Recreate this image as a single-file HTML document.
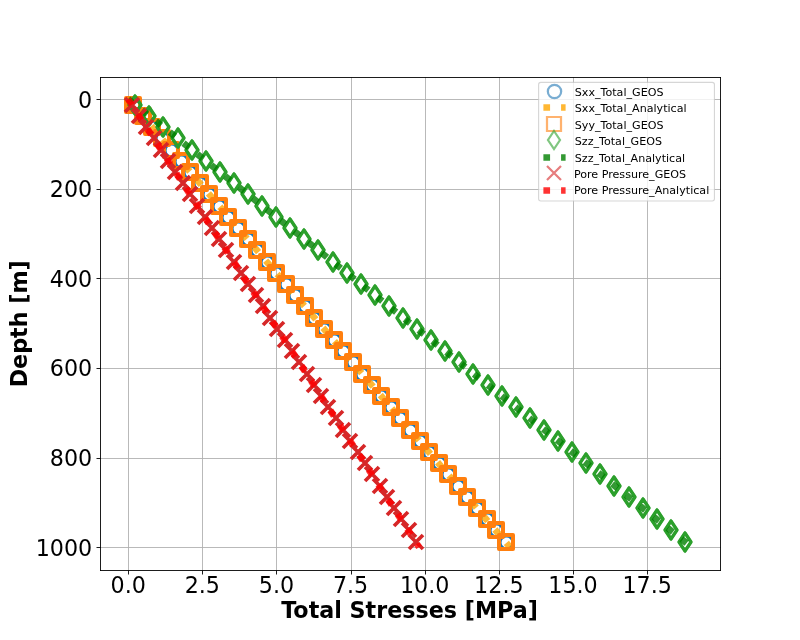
<!DOCTYPE html>
<html lang="en">
<head>
<meta charset="utf-8">
<title>Total Stresses vs Depth</title>
<style>
html,body{margin:0;padding:0;background:#fff}
body{width:800px;height:640px;overflow:hidden;font-family:"DejaVu Sans","Liberation Sans",sans-serif}
svg{display:block}
</style>
</head>
<body>
<svg width="800" height="640" viewBox="0 0 800 640">
<defs>
<clipPath id="ax"><rect x="100" y="77" width="621" height="494"/></clipPath>
<circle id="mo" r="6.667"/>
<path id="ms" d="M-7-7H7V7H-7Z"/>
<path id="md" d="M0-9L6 0L0 9L-6 0Z"/>
<g id="mD"><use href="#md" stroke-width="3.3" stroke-linejoin="round"/><use href="#md" stroke-width="2.4" stroke-linejoin="miter"/></g>
<path id="mx" d="M-7-7L7 7M-7 7L7-7"/>
</defs>
<rect width="800" height="640" fill="#fff"/>
<g clip-path="url(#ax)" stroke="#b0b0b0" stroke-width="0.889" stroke-linecap="square" fill="none">
<path d="M128.5 77.5 V570.5"/>
<path d="M202.5 77.5 V570.5"/>
<path d="M276.5 77.5 V570.5"/>
<path d="M351.5 77.5 V570.5"/>
<path d="M425.5 77.5 V570.5"/>
<path d="M499.5 77.5 V570.5"/>
<path d="M573.5 77.5 V570.5"/>
<path d="M647.5 77.5 V570.5"/>
<path d="M100.5 99.5 H720.5"/>
<path d="M100.5 189.5 H720.5"/>
<path d="M100.5 278.5 H720.5"/>
<path d="M100.5 368.5 H720.5"/>
<path d="M100.5 458.5 H720.5"/>
<path d="M100.5 547.5 H720.5"/>
</g>
<g clip-path="url(#ax)" fill="none" stroke-width="3.5" stroke="#1f77b4">
<use href="#mo" x="133.5" y="105.5"/>
<use href="#mo" x="143.5" y="116.5"/>
<use href="#mo" x="152.5" y="127.5"/>
<use href="#mo" x="162.5" y="138.5"/>
<use href="#mo" x="171.5" y="150.5"/>
<use href="#mo" x="181.5" y="161.5"/>
<use href="#mo" x="190.5" y="172.5"/>
<use href="#mo" x="200.5" y="183.5"/>
<use href="#mo" x="209.5" y="194.5"/>
<use href="#mo" x="219.5" y="206.5"/>
<use href="#mo" x="228.5" y="217.5"/>
<use href="#mo" x="238.5" y="228.5"/>
<use href="#mo" x="248.5" y="239.5"/>
<use href="#mo" x="257.5" y="250.5"/>
<use href="#mo" x="267.5" y="262.5"/>
<use href="#mo" x="276.5" y="273.5"/>
<use href="#mo" x="286.5" y="284.5"/>
<use href="#mo" x="295.5" y="295.5"/>
<use href="#mo" x="305.5" y="306.5"/>
<use href="#mo" x="314.5" y="318.5"/>
<use href="#mo" x="324.5" y="329.5"/>
<use href="#mo" x="334.5" y="340.5"/>
<use href="#mo" x="343.5" y="351.5"/>
<use href="#mo" x="353.5" y="362.5"/>
<use href="#mo" x="362.5" y="374.5"/>
<use href="#mo" x="372.5" y="385.5"/>
<use href="#mo" x="381.5" y="396.5"/>
<use href="#mo" x="391.5" y="407.5"/>
<use href="#mo" x="400.5" y="418.5"/>
<use href="#mo" x="410.5" y="430.5"/>
<use href="#mo" x="420.5" y="441.5"/>
<use href="#mo" x="429.5" y="452.5"/>
<use href="#mo" x="439.5" y="463.5"/>
<use href="#mo" x="448.5" y="474.5"/>
<use href="#mo" x="458.5" y="486.5"/>
<use href="#mo" x="467.5" y="497.5"/>
<use href="#mo" x="477.5" y="508.5"/>
<use href="#mo" x="487.5" y="519.5"/>
<use href="#mo" x="496.5" y="530.5"/>
<use href="#mo" x="506.5" y="542.5"/>
</g>
<path clip-path="url(#ax)" d="M128.182 99.2 L510 547.2" fill="none" stroke="#ffa500" stroke-opacity="0.8" stroke-width="6.667" stroke-dasharray="6.667 11"/>
<g clip-path="url(#ax)" fill="none" stroke-width="4" stroke="#ff7f0e" stroke-linejoin="round">
<use href="#ms" x="133" y="105"/>
<use href="#ms" x="143" y="116"/>
<use href="#ms" x="152" y="127"/>
<use href="#ms" x="162" y="138"/>
<use href="#ms" x="171" y="150"/>
<use href="#ms" x="181" y="161"/>
<use href="#ms" x="190" y="172"/>
<use href="#ms" x="200" y="183"/>
<use href="#ms" x="209" y="194"/>
<use href="#ms" x="219" y="206"/>
<use href="#ms" x="228" y="217"/>
<use href="#ms" x="238" y="228"/>
<use href="#ms" x="248" y="239"/>
<use href="#ms" x="257" y="250"/>
<use href="#ms" x="267" y="262"/>
<use href="#ms" x="276" y="273"/>
<use href="#ms" x="286" y="284"/>
<use href="#ms" x="295" y="295"/>
<use href="#ms" x="305" y="306"/>
<use href="#ms" x="314" y="318"/>
<use href="#ms" x="324" y="329"/>
<use href="#ms" x="334" y="340"/>
<use href="#ms" x="343" y="351"/>
<use href="#ms" x="353" y="362"/>
<use href="#ms" x="362" y="374"/>
<use href="#ms" x="372" y="385"/>
<use href="#ms" x="381" y="396"/>
<use href="#ms" x="391" y="407"/>
<use href="#ms" x="400" y="418"/>
<use href="#ms" x="410" y="430"/>
<use href="#ms" x="420" y="441"/>
<use href="#ms" x="429" y="452"/>
<use href="#ms" x="439" y="463"/>
<use href="#ms" x="448" y="474"/>
<use href="#ms" x="458" y="486"/>
<use href="#ms" x="467" y="497"/>
<use href="#ms" x="477" y="508"/>
<use href="#ms" x="487" y="519"/>
<use href="#ms" x="496" y="530"/>
<use href="#ms" x="506" y="542"/>
</g>
<g clip-path="url(#ax)" fill="none" stroke-width="3.5" stroke="#2ca02c" stroke-linejoin="round">
<use href="#mD" x="135" y="105"/>
<use href="#mD" x="149" y="116"/>
<use href="#mD" x="163" y="127"/>
<use href="#mD" x="178" y="138"/>
<use href="#mD" x="192" y="150"/>
<use href="#mD" x="206" y="161"/>
<use href="#mD" x="220" y="172"/>
<use href="#mD" x="234" y="183"/>
<use href="#mD" x="248" y="194"/>
<use href="#mD" x="262" y="206"/>
<use href="#mD" x="276" y="217"/>
<use href="#mD" x="290" y="228"/>
<use href="#mD" x="304" y="239"/>
<use href="#mD" x="318" y="250"/>
<use href="#mD" x="333" y="262"/>
<use href="#mD" x="347" y="273"/>
<use href="#mD" x="361" y="284"/>
<use href="#mD" x="375" y="295"/>
<use href="#mD" x="389" y="306"/>
<use href="#mD" x="403" y="318"/>
<use href="#mD" x="417" y="329"/>
<use href="#mD" x="431" y="340"/>
<use href="#mD" x="445" y="351"/>
<use href="#mD" x="459" y="362"/>
<use href="#mD" x="473" y="374"/>
<use href="#mD" x="488" y="385"/>
<use href="#mD" x="502" y="396"/>
<use href="#mD" x="516" y="407"/>
<use href="#mD" x="530" y="418"/>
<use href="#mD" x="544" y="430"/>
<use href="#mD" x="558" y="441"/>
<use href="#mD" x="572" y="452"/>
<use href="#mD" x="586" y="463"/>
<use href="#mD" x="600" y="474"/>
<use href="#mD" x="614" y="486"/>
<use href="#mD" x="629" y="497"/>
<use href="#mD" x="643" y="508"/>
<use href="#mD" x="657" y="519"/>
<use href="#mD" x="671" y="530"/>
<use href="#mD" x="685" y="542"/>
</g>
<path clip-path="url(#ax)" d="M128.182 99.2 L691.818 547.2" fill="none" stroke="#008000" stroke-opacity="0.8" stroke-width="6.667" stroke-dasharray="6.667 11"/>
<g clip-path="url(#ax)" fill="none" stroke-width="3.7" stroke="#d62728">
<use href="#mx" x="132" y="105"/>
<use href="#mx" x="139" y="116"/>
<use href="#mx" x="146" y="127"/>
<use href="#mx" x="154" y="138"/>
<use href="#mx" x="161" y="150"/>
<use href="#mx" x="168" y="161"/>
<use href="#mx" x="175" y="172"/>
<use href="#mx" x="183" y="183"/>
<use href="#mx" x="190" y="194"/>
<use href="#mx" x="197" y="206"/>
<use href="#mx" x="205" y="217"/>
<use href="#mx" x="212" y="228"/>
<use href="#mx" x="219" y="239"/>
<use href="#mx" x="226" y="250"/>
<use href="#mx" x="234" y="262"/>
<use href="#mx" x="241" y="273"/>
<use href="#mx" x="248" y="284"/>
<use href="#mx" x="256" y="295"/>
<use href="#mx" x="263" y="306"/>
<use href="#mx" x="270" y="318"/>
<use href="#mx" x="277" y="329"/>
<use href="#mx" x="285" y="340"/>
<use href="#mx" x="292" y="351"/>
<use href="#mx" x="299" y="362"/>
<use href="#mx" x="307" y="374"/>
<use href="#mx" x="314" y="385"/>
<use href="#mx" x="321" y="396"/>
<use href="#mx" x="328" y="407"/>
<use href="#mx" x="336" y="418"/>
<use href="#mx" x="343" y="430"/>
<use href="#mx" x="350" y="441"/>
<use href="#mx" x="358" y="452"/>
<use href="#mx" x="365" y="463"/>
<use href="#mx" x="372" y="474"/>
<use href="#mx" x="380" y="486"/>
<use href="#mx" x="387" y="497"/>
<use href="#mx" x="394" y="508"/>
<use href="#mx" x="401" y="519"/>
<use href="#mx" x="409" y="530"/>
<use href="#mx" x="416" y="542"/>
</g>
<path clip-path="url(#ax)" d="M128.182 99.2 L419.091 547.2" fill="none" stroke="#ff0000" stroke-opacity="0.8" stroke-width="6.667" stroke-dasharray="6.667 11"/>
<g stroke="#000" stroke-width="0.889" fill="none">
<path stroke-linecap="square" d="M100.5 77.5 V570.5 M720.5 77.5 V570.5 M100.5 570.5 H720.5 M100.5 77.5 H720.5"/>
<path d="M128.5 570.5 v4M202.5 570.5 v4M276.5 570.5 v4M351.5 570.5 v4M425.5 570.5 v4M499.5 570.5 v4M573.5 570.5 v4M647.5 570.5 v4M100.5 99.5 h-4M100.5 189.5 h-4M100.5 278.5 h-4M100.5 368.5 h-4M100.5 458.5 h-4M100.5 547.5 h-4"/>
</g>
<g font-family="'DejaVu Sans','Liberation Sans',sans-serif" font-size="22.222" fill="#000">
<g text-anchor="middle">
<text x="128.182" y="593.4">0.0</text>
<text x="202.318" y="593.4">2.5</text>
<text x="276.454" y="593.4">5.0</text>
<text x="350.589" y="593.4">7.5</text>
<text x="424.725" y="593.4">10.0</text>
<text x="498.861" y="593.4">12.5</text>
<text x="572.997" y="593.4">15.0</text>
<text x="647.133" y="593.4">17.5</text>
</g>
<g text-anchor="end">
<text x="92.22" y="107.64">0</text>
<text x="92.22" y="197.24">200</text>
<text x="92.22" y="286.84">400</text>
<text x="92.22" y="376.44">600</text>
<text x="92.22" y="466.04">800</text>
<text x="92.22" y="555.64">1000</text>
</g>
<g font-weight="700" text-anchor="middle">
<text x="409.5" y="618.3">Total Stresses [MPa]</text>
<text transform="translate(26.7 323.8) rotate(-90)">Depth [m]</text>
</g>
</g>
<path d="M540.822 201 H712.218 Q714.44 201 714.44 198.778 V84.582 Q714.44 82.36 712.218 82.36 H540.822 Q538.6 82.36 538.6 84.582 V198.778 Q538.6 201 540.822 201 Z" fill="#fff" stroke="#ccc" stroke-width="1.111" opacity="0.8"/>
<g fill="none" stroke-width="2.222" stroke-linejoin="miter" stroke-opacity="0.6">
<use href="#mo" x="554.5" y="91.5" stroke="#1f77b4"/>
<use href="#ms" x="554" y="124" stroke="#ff7f0e"/>
<use href="#md" x="554" y="140" stroke="#2ca02c"/>
<use href="#mx" x="554" y="173" stroke="#d62728"/>
</g>
<g fill="none" stroke-opacity="0.8" stroke-width="6.667" stroke-dasharray="6.667 11">
<path d="M543.4 107.5 H565.6" stroke="#ffa500"/>
<path d="M543.4 157.5 H565.6" stroke="#008000"/>
<path d="M543.4 190.5 H565.6" stroke="#ff0000"/>
</g>
<g font-family="'DejaVu Sans','Liberation Sans',sans-serif" font-size="11.111" fill="#000">
<text x="574.8" y="95.9">Sxx_Total_GEOS</text>
<text x="574.8" y="111.9">Sxx_Total_Analytical</text>
<text x="574.8" y="128.9">Syy_Total_GEOS</text>
<text x="574.8" y="144.9">Szz_Total_GEOS</text>
<text x="574.8" y="161.9">Szz_Total_Analytical</text>
<text x="573.9" y="177.9">Pore Pressure_GEOS</text>
<text x="573.9" y="193.9">Pore Pressure_Analytical</text>
</g>
</svg>
</body>
</html>
